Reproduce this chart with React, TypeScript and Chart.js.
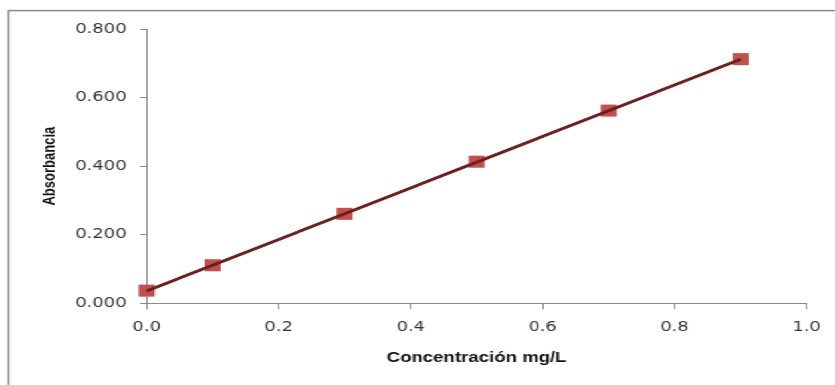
import React, { useEffect, useRef } from "react";
import { Chart, registerables } from "chart.js";

Chart.register(...registerables);

// ---- data ----
const concentrations = [0, 0.1, 0.3, 0.5, 0.7, 0.9];
const absorbances = [0.037, 0.111, 0.261, 0.413, 0.562, 0.712];
const trendX = [0, 0.9];
const trendY = [0.036, 0.712];
const xTicks = [0, 0.2, 0.4, 0.6, 0.8, 1.0];
const yTicks = [0, 0.2, 0.4, 0.6, 0.8];
const xTitle = "Concentración mg/L";
const yTitle = "Absorbancia";

// the reference picture is horizontally stretched
const NAT_W = 628;
const NAT_H = 385;
const STRETCH = 835 / NAT_W;

const framePlugin = {
  id: "frame",
  beforeDraw(chart: any) {
    const ctx = chart.ctx;
    ctx.save();
    ctx.strokeStyle = "#8a8a8a";
    ctx.lineWidth = 1.5;
    ctx.strokeRect(6.4, 10.6, 2000, 2000);
    ctx.restore();
  },
};

export default function App() {
  const ref = useRef<HTMLCanvasElement | null>(null);

  useEffect(() => {
    if (!ref.current) return;
    const chart = new Chart(ref.current, {
      type: "scatter",
      data: {
        datasets: [
          {
            label: "Lineal",
            data: trendX.map((x, i) => ({ x, y: trendY[i] })),
            showLine: true,
            borderColor: "#6e1d1d",
            borderWidth: 2.8,
            pointRadius: 0,
            order: 0,
            clip: false as any,
          },
          {
            label: "Absorbancia",
            data: concentrations.map((x, i) => ({ x, y: absorbances[i] })),
            showLine: true,
            borderColor: "#4F81BD",
            borderWidth: 2,
            pointStyle: "rect",
            pointRadius: 8.5,
            pointBackgroundColor: "#C0504D",
            pointBorderColor: "#C0504D",
            pointBorderWidth: 0,
            order: 1,
            clip: false as any,
          },
        ],
      },
      options: {
        animation: false,
        responsive: true,
        maintainAspectRatio: false,
        devicePixelRatio: 1,
        layout: { padding: { left: 29.8, right: 21.3, top: 29, bottom: 18.6 } },
        plugins: {
          legend: { display: false },
          tooltip: { enabled: false },
        },
        scales: {
          x: {
            type: "linear",
            position: "bottom",
            min: 0,
            max: 1,
            afterBuildTicks: (s: any) => {
              s.ticks = xTicks.map((v) => ({ value: v }));
            },
            afterFit: (s: any) => {
              s.height = 63.1;
            },
            grid: { drawOnChartArea: false, drawTicks: true, tickLength: 6, color: "#8a8a8a" },
            border: { display: true, color: "#8a8a8a", width: 1 },
            ticks: {
              font: { family: "DejaVu Sans", size: 13.5 },
              color: "#333",
              padding: 10.5,
              maxRotation: 0,
              callback: (v: any) => Number(v).toFixed(1),
            },
            title: {
              display: true,
              text: xTitle,
              font: { family: "Liberation Sans", size: 14, weight: "bold" },
              color: "#111",
              padding: 0,
            },
          },
          y: {
            type: "linear",
            min: 0,
            max: 0.8,
            afterBuildTicks: (s: any) => {
              s.ticks = yTicks.map((v) => ({ value: v }));
            },
            afterFit: (s: any) => {
              s.width = 80.5;
            },
            grid: { drawOnChartArea: false, drawTicks: true, tickLength: 5, color: "#8a8a8a" },
            border: { display: true, color: "#8a8a8a", width: 1 },
            ticks: {
              font: { family: "DejaVu Sans", size: 13.5 },
              color: "#333",
              padding: 10,
              callback: (v: any) => Number(v).toFixed(3),
            },
            title: {
              display: true,
              text: yTitle,
              font: { family: "Liberation Sans", size: 13, weight: "bold" },
              color: "#111",
              padding: 0,
            },
          },
        },
      } as any,
      plugins: [framePlugin],
    });
    return () => chart.destroy();
  }, []);

  return (
    <div
      style={{
        position: "fixed",
        left: 0,
        top: 0,
        width: NAT_W + "px",
        height: NAT_H + "px",
        transform: `scaleX(${STRETCH})`,
        transformOrigin: "0 0",
        background: "#fff",
      }}
    >
      <canvas ref={ref} style={{ display: "block" }} />
    </div>
  );
}
